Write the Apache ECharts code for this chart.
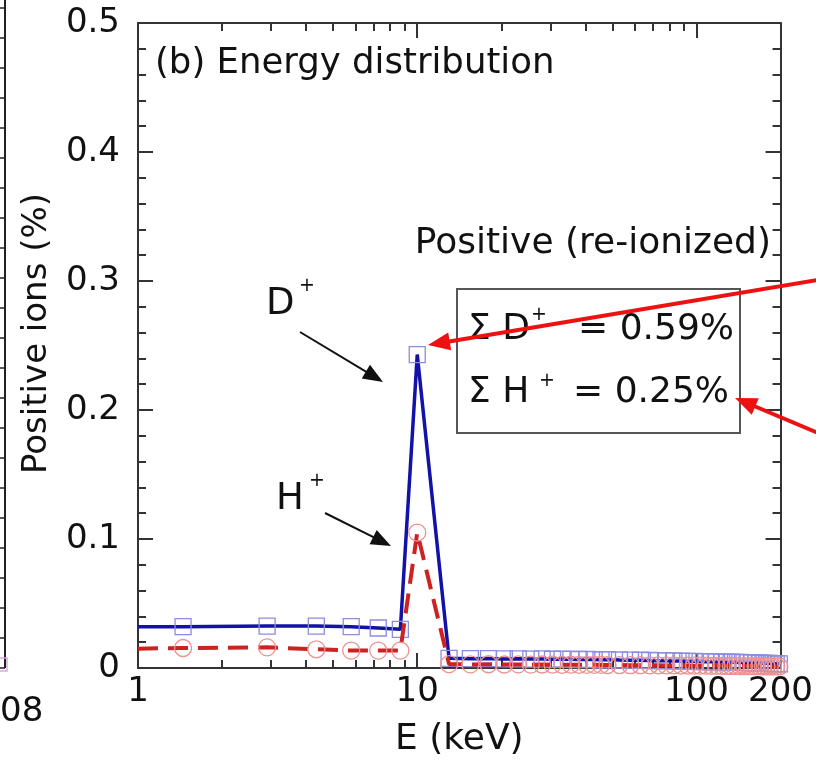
<!DOCTYPE html>
<html>
<head>
<meta charset="utf-8">
<script src="https://cdn.jsdelivr.net/npm/echarts@6/dist/echarts.min.js"></script>
<style>
html, body { margin: 0; padding: 0; background: #fff; }
#chart { width: 816px; height: 765px; }
</style>
</head>
<body>
<div id="chart"></div>
<script>
// energy bins (keV)
const energy = [1, 1.45, 2.9, 4.35, 5.8, 7.25, 8.7, 10,
    13, 15.5, 18, 20.5, 23, 25.5, 28, 30.5, 33, 35.5, 38, 40.5, 43, 45.5, 48,
    53, 58, 63, 68, 73, 78, 83, 88, 93, 98,
    103, 108, 113, 118, 123, 128, 133, 138, 143, 148,
    153, 158, 163, 168, 173, 178, 183, 188, 193, 198];

// D+ (blue squares), positive ions (%)
const dPlus = [0.032, 0.032, 0.0325, 0.0325, 0.032, 0.031, 0.030, 0.243,
    0.0075, 0.0072, 0.0073, 0.0070, 0.0071, 0.0069, 0.0070, 0.0068, 0.0069, 0.0067, 0.0066, 0.0067, 0.0065, 0.0064, 0.0065,
    0.0062, 0.0061, 0.0060, 0.0058, 0.0057, 0.0056, 0.0055, 0.0054, 0.0052, 0.0052,
    0.0050, 0.0049, 0.0048, 0.0047, 0.0046, 0.0045, 0.0045, 0.0044, 0.0043, 0.0042,
    0.0041, 0.0040, 0.0039, 0.0038, 0.0037, 0.0036, 0.0035, 0.0034, 0.0033, 0.0032];

// H+ (red circles), positive ions (%)
const hPlus = [0.015, 0.0155, 0.016, 0.0145, 0.0135, 0.0135, 0.0135, 0.105,
    0.0030, 0.0028, 0.0029, 0.0027, 0.0028, 0.0026, 0.0027, 0.0026, 0.0025, 0.0026, 0.0025, 0.0024, 0.0025, 0.0024, 0.0023,
    0.0023, 0.0022, 0.0022, 0.0021, 0.0021, 0.0020, 0.0020, 0.0019, 0.0019, 0.0018,
    0.0018, 0.0018, 0.0017, 0.0017, 0.0017, 0.0016, 0.0016, 0.0016, 0.0015, 0.0015,
    0.0015, 0.0014, 0.0014, 0.0014, 0.0013, 0.0013, 0.0013, 0.0012, 0.0012, 0.0012];

const xLabels = [1, 10, 100, 200];
const xMajorTicks = [10, 100];
const xMinorTicks = [2, 3, 4, 5, 6, 7, 8, 9, 20, 30, 40, 50, 60, 70, 80, 90];

const FONT = '"DejaVu Sans", "Liberation Sans", sans-serif';
const frame = { color: '#333', width: 2 };

// first bin only carries the line to the axis, no marker there
const toPoints = vals => vals.map((v, i) =>
    i === 0 ? { value: [energy[i], v], symbol: 'none' } : [energy[i], v]);

function arrow(x1, y1, x2, y2, color, width, headLen, headHalf, z) {
    const dx = x2 - x1, dy = y2 - y1;
    const len = Math.hypot(dx, dy);
    const ux = dx / len, uy = dy / len;
    const bx = x2 - ux * headLen, by = y2 - uy * headLen;
    return [
        { type: 'line', z: z, shape: { x1: x1, y1: y1, x2: bx + ux * 2, y2: by + uy * 2 },
          style: { stroke: color, lineWidth: width } },
        { type: 'polygon', z: z,
          shape: { points: [[x2, y2], [bx - uy * headHalf, by + ux * headHalf], [bx + uy * headHalf, by - ux * headHalf]] },
          style: { fill: color } }
    ];
}

function label(x, y, text, size, align) {
    return { type: 'text', x: x, y: y, z: 50,
        style: { text: text, font: size + 'px ' + FONT, fill: '#111', align: align || 'left', verticalAlign: 'middle' } };
}

// piece of the neighbouring panel at the left edge
const leftPanel = [
    { type: 'line', shape: { x1: 5, y1: 0, x2: 5, y2: 668 }, style: { stroke: '#222', lineWidth: 2 } },
    { type: 'rect', shape: { x: -6, y: 658, width: 13, height: 13 }, style: { fill: 'none', stroke: '#d8a8e0', lineWidth: 1.5 } },
    label(0, 712, '08', 34)
];
for (let y = 668; y > 0; y -= 30) {
    leftPanel.push({ type: 'line', shape: { x1: 0, y1: y, x2: 5, y2: y }, style: { stroke: '#222', lineWidth: 1.5 } });
}

const chart = echarts.init(document.getElementById('chart'));

const tickAxisX = (position, ticks, len) => ({
    type: 'log', min: 1, max: 200, position: position,
    axisLine: { show: false },
    axisTick: { inside: true, length: len, customValues: ticks, lineStyle: frame },
    axisLabel: { show: false },
    splitLine: { show: false }
});

const option = {
    backgroundColor: '#fff',
    animation: false,
    grid: { left: 138, right: 34, top: 23, bottom: 97 },
    xAxis: [
        {
            type: 'log', min: 1, max: 200, position: 'bottom',
            name: 'E (keV)', nameLocation: 'middle', nameGap: 54,
            nameTextStyle: { fontSize: 36, color: '#111', fontFamily: FONT },
            axisLine: { lineStyle: frame },
            axisTick: { inside: true, length: 8, customValues: xMinorTicks, lineStyle: frame },
            axisLabel: { customValues: xLabels, fontSize: 34, color: '#111', fontFamily: FONT, margin: 7 },
            splitLine: { show: false }
        },
        tickAxisX('bottom', xMajorTicks, 15),
        {
            type: 'log', min: 1, max: 200, position: 'top',
            axisLine: { lineStyle: frame },
            axisTick: { inside: true, length: 8, customValues: xMinorTicks, lineStyle: frame },
            axisLabel: { show: false },
            splitLine: { show: false }
        },
        tickAxisX('top', xMajorTicks, 15)
    ],
    yAxis: [
        {
            type: 'value', min: 0, max: 0.5, interval: 0.1, position: 'left',
            name: 'Positive ions (%)', nameLocation: 'middle', nameGap: 84, nameRotate: 90,
            nameTextStyle: { fontSize: 34, color: '#111', fontFamily: FONT, padding: [0, 0, 0, 24] },
            axisLine: { show: true, lineStyle: frame },
            axisTick: { inside: true, length: 15, lineStyle: frame },
            minorTick: { show: true, splitNumber: 5, length: 8, lineStyle: frame },
            axisLabel: { fontSize: 34, color: '#111', fontFamily: FONT, margin: 18 },
            splitLine: { show: false }
        },
        {
            type: 'value', min: 0, max: 0.5, interval: 0.1, position: 'right',
            axisLine: { show: true, lineStyle: frame },
            axisTick: { inside: true, length: 15, lineStyle: frame },
            minorTick: { show: true, splitNumber: 5, length: 8, lineStyle: frame },
            axisLabel: { show: false },
            splitLine: { show: false }
        }
    ],
    series: [
        {
            name: 'D+', type: 'line', data: toPoints(dPlus),
            symbol: 'rect', symbolSize: 16,
            itemStyle: { color: 'rgba(0,0,0,0)', borderColor: '#8c8ce0', borderWidth: 1.3 },
            lineStyle: { color: '#1212a8', width: 3.5 },
            z: 3
        },
        {
            name: 'H+', type: 'line', data: toPoints(hPlus),
            symbol: 'circle', symbolSize: 17,
            itemStyle: { color: 'rgba(0,0,0,0)', borderColor: '#f09090', borderWidth: 1.3 },
            lineStyle: { color: '#cc2222', width: 4, type: [20, 10] },
            z: 4
        }
    ],
    graphic: [
        label(155, 64, '(b) Energy distribution', 35.5),
        label(771, 244, 'Positive (re-ionized)', 36, 'right'),
        { type: 'rect', z: 40, shape: { x: 457, y: 289, width: 283, height: 144 },
          style: { fill: 'none', stroke: '#555', lineWidth: 2 } },
        label(468, 330, 'Σ D', 36),
        label(531, 315, '+', 19),
        label(734, 330, '= 0.59%', 36, 'right'),
        label(468, 393, 'Σ H', 36),
        label(539, 381, '+', 19),
        label(729, 393, '= 0.25%', 36, 'right'),
        label(266, 304, 'D', 37),
        label(299, 286, '+', 19),
        label(276, 499, 'H', 37),
        label(309, 481, '+', 19),
        ...arrow(300, 332, 383, 382, '#111', 2, 20, 8, 60),
        ...arrow(325, 513, 391, 546, '#111', 2, 20, 8, 60),
        ...arrow(830, 278, 428, 345, '#ee1111', 4, 22, 9, 90),
        ...arrow(830, 438, 735, 398, '#ee1111', 4, 22, 9, 90),
        ...leftPanel
    ]
};

chart.setOption(option);
</script>
</body>
</html>
